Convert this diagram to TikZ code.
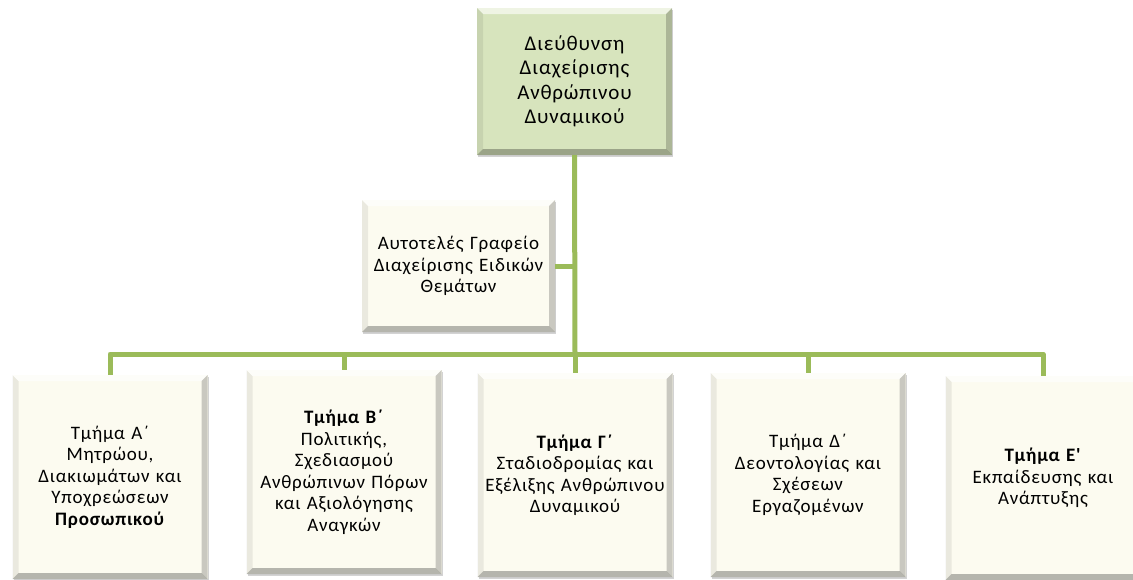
\documentclass[tikz,border=0pt]{standalone}
\usepackage{fontspec}
\setmainfont{Carlito}[LetterSpace=4, Ligatures=TeXOff]
\usetikzlibrary{shadows}
\definecolor{lineg}{HTML}{9BBB59}
\definecolor{topfill}{HTML}{D7E4BD}
\definecolor{cream}{HTML}{FCFBF0}
\tikzset{
  bevelbox/.style={draw=none, fill=cream, align=center, inner sep=2pt,
    font=\fontsize{19}{21.5}\selectfont,
    drop shadow={shadow xshift=1pt, shadow yshift=-2pt, opacity=.35},
    path picture={
      \fill[white,opacity=.6] (path picture bounding box.north west) -- (path picture bounding box.north east)
        -- ([xshift=-6pt,yshift=-6pt]path picture bounding box.north east) -- ([xshift=6pt,yshift=-6pt]path picture bounding box.north west) -- cycle;
      \fill[black,opacity=.28] (path picture bounding box.south west) -- (path picture bounding box.south east)
        -- ([xshift=-6pt,yshift=6pt]path picture bounding box.south east) -- ([xshift=6pt,yshift=6pt]path picture bounding box.south west) -- cycle;
      \fill[black,opacity=.07] (path picture bounding box.south west) -- (path picture bounding box.north west)
        -- ([xshift=6pt,yshift=-6pt]path picture bounding box.north west) -- ([xshift=6pt,yshift=6pt]path picture bounding box.south west) -- cycle;
      \fill[black,opacity=.2] (path picture bounding box.south east) -- (path picture bounding box.north east)
        -- ([xshift=-6pt,yshift=-6pt]path picture bounding box.north east) -- ([xshift=-6pt,yshift=6pt]path picture bounding box.south east) -- cycle;
    }},
  unitbox/.style={bevelbox, minimum width=195pt, minimum height=204pt, text width=191pt},
  conn/.style={draw=lineg, line width=5pt, line join=round}
}
\begin{document}
\begin{tikzpicture}[x=1pt,y=-1pt]
\useasboundingbox (0,0) rectangle (1133,579);
\coordinate (bus) at (575,354);
\node[bevelbox, fill=topfill, minimum width=195pt, minimum height=147pt, text width=189pt,
  font=\fontsize{21}{24.5}\selectfont] (top) at (574.5,81.5)
  {Διεύθυνση\\ Διαχείρισης\\ Ανθρώπινου\\ Δυναμικού};
\node[bevelbox, minimum width=193pt, minimum height=132pt, text width=189pt] (side) at (458.5,266)
  {Αυτοτελές Γραφείο\\ Διαχείρισης Ειδικών\\ Θεμάτων};
\node[unitbox] (b1) at (110,477)
  {Τμήμα Α΄\\ Μητρώου,\\ Διακιωμάτων και\\ Υποχρεώσεων\\ \textbf{Προσωπικού}};
\node[unitbox] (b2) at (344,472)
  {\textbf{Τμήμα Β΄}\\ Πολιτικής,\\ Σχεδιασμού\\ Ανθρώπινων Πόρων\\ και Αξιολόγησης\\ Αναγκών};
\node[unitbox] (b3) at (575,475)
  {\textbf{Τμήμα Γ΄}\\ Σταδιοδρομίας και\\ Εξέλιξης Ανθρώπινου\\ Δυναμικού};
\node[unitbox] (b4) at (808,475)
  {Τμήμα Δ΄\\ Δεοντολογίας και\\ Σχέσεων\\ Εργαζομένων};
\node[unitbox] (b5) at (1043,478)
  {\textbf{Τμήμα Ε'}\\ Εκπαίδευσης και\\ Ανάπτυξης};
\draw[conn] (top.south) -- (bus);
\draw[conn] (side.east) -- (side.east -| top.south);
\draw[conn] (b1.north) |- (bus) -| (b5.north);
\draw[conn] (b2.north) -- (b2.north |- bus);
\draw[conn] (b3.north) -- (bus);
\draw[conn] (b4.north) -- (b4.north |- bus);
\end{tikzpicture}
\end{document}
